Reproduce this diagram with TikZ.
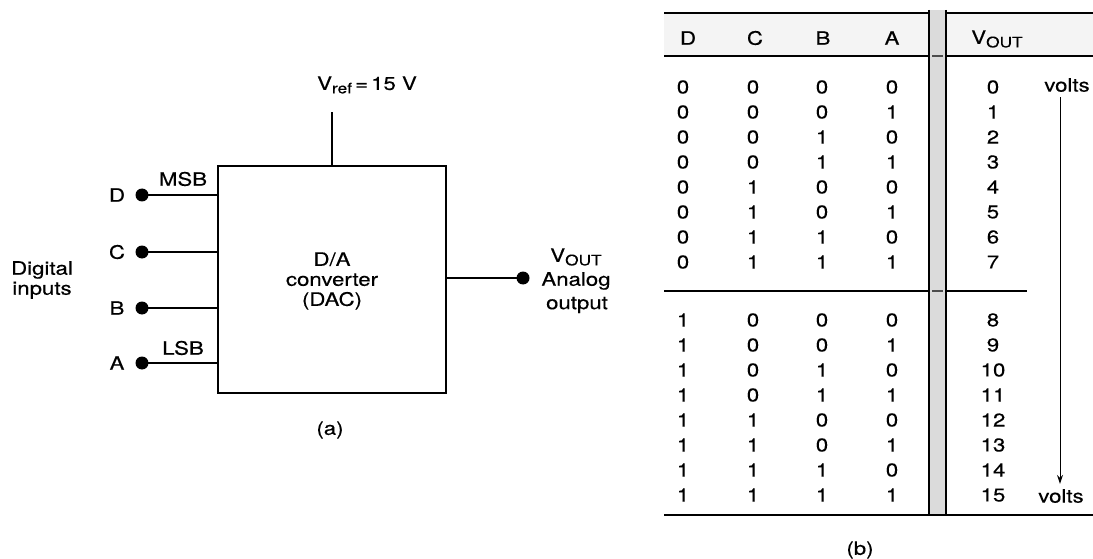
\documentclass[tikz,border=0pt]{standalone}
\usepackage{fontspec}
\usepackage{graphicx}
\setmainfont{TeX Gyre Heros}
\newfontfamily\figfont[FakeStretch=1.2,FakeBold=0.4]{TeX Gyre Heros}
\usetikzlibrary{arrows.meta}
\newcommand{\lowsub}[1]{\raisebox{-0.35ex}{\scalebox{0.78}{#1}}}
\begin{document}
\begin{tikzpicture}[x=1pt,y=-1pt,
  txt/.style={inner sep=0pt,font=\figfont\fontsize{18.5}{22}\selectfont},
  cell/.style={txt},
  wire/.style={line width=2.4pt},
  rule/.style={line width=2pt},
  dotnode/.style={circle,fill=black,inner sep=0pt,minimum size=13pt}]
\useasboundingbox (0,0) rectangle (1093,559);
% ---------------- (a) ----------------
\node[draw,line width=1.6pt,minimum width=228pt,minimum height=227pt,inner sep=0pt] (box) at (332,279.5) {};
\node[txt,align=center] (boxtxt) at (332,281) {D/A\\[-2pt]converter\\[-2pt](DAC)};
\coordinate (vreftop) at (332,112);
\draw[rule] (box.north -| vreftop) -- (vreftop);
\node[txt] (vref) at (367,85) {V\lowsub{ref}\,=\,15 V};
\foreach \n/\yy in {D/195,C/252,B/308,A/363} {
  \node[dotnode] (dot\n) at (142,\yy) {};
  \node[txt] (lab\n) at (117,\yy) {\n};
  \draw[wire] (dot\n.center) -- (dot\n.center -| box.west);
}
\node[txt] (msb) at (183,179) {MSB};
\node[txt] (lsb) at (183,348) {LSB};
\node[txt,align=center] (dig) at (42,280) {Digital\\[-2pt]inputs};
\node[dotnode] (dotout) at (523,278) {};
\draw[wire] (dotout.center -| box.east) -- (dotout.center);
\node[txt] (vout) at (576,257) {V\lowsub{OUT}};
\node[txt] (analog) at (576,281) {Analog};
\node[txt] (output) at (577,305) {output};
\node[txt] (capa) at (330,430) {(a)};
% ---------------- (b) ----------------
\fill[gray!9] (664,13) rectangle (1093,56);
\fill[gray!28] (929,10) rectangle (946,515);
\draw[line width=1.5pt] (929,10) -- (929,515);
\draw[line width=1.5pt] (946,10) -- (946,515);
\draw[line width=1.2pt,gray!60!black] (932,56) -- (943,56);
\draw[line width=1.2pt,gray!60!black] (932,291) -- (943,291);
\draw[rule] (664,13) -- (929,13);
\draw[rule] (946,13) -- (1093,13);
\draw[rule] (664,56) -- (929,56);
\draw[rule] (946,56) -- (1093,56);
\draw[line width=1.6pt] (664,291) -- (929,291);
\draw[line width=1.6pt] (946,291) -- (1027,291);
\draw[rule] (664,515) -- (1093,515);
\node[txt] (hD) at (688,38) {D};
\node[txt] (hC) at (755,38) {C};
\node[txt] (hB) at (823,38) {B};
\node[txt] (hA) at (892,38) {A};
\node[txt] (hV) at (997,39) {V\lowsub{OUT}};
\foreach \i in {0,...,15} {
  \pgfmathtruncatemacro\bd{int(\i/8)}
  \pgfmathtruncatemacro\bc{mod(int(\i/4),2)}
  \pgfmathtruncatemacro\bb{mod(int(\i/2),2)}
  \pgfmathtruncatemacro\ba{mod(\i,2)}
  \pgfmathsetmacro\yy{\i<8 ? 87+25*\i : 320+25*(\i-8)}
  \node[cell] (d\i) at (683,\yy) {\bd};
  \node[cell] (c\i) at (753,\yy) {\bc};
  \node[cell] (b\i) at (822,\yy) {\bb};
  \node[cell] (a\i) at (892,\yy) {\ba};
  \node[cell] (v\i) at (993,\yy) {\i};
}
\node[txt] (volts1) at (1067,85) {volts};
\node[txt] (volts2) at (1061,496) {volts};
\coordinate (arrx) at (1060,0);
\draw[line width=1pt,-{Stealth[length=9pt,width=6pt]}] ([yshift=-5pt]volts1.south -| arrx) -- ([yshift=5pt]volts2.north -| arrx);
\node[txt] (capb) at (860,550) {(b)};
\end{tikzpicture}
\end{document}
